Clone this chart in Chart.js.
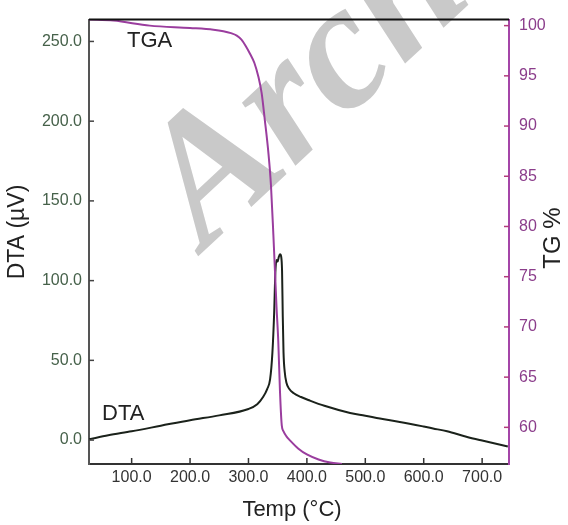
<!DOCTYPE html>
<html>
<head>
<meta charset="utf-8">
<script src="https://cdn.jsdelivr.net/npm/chart.js@4"></script>
<style>
  html, body { margin: 0; background: #fff; }
  #wrap { width: 568px; height: 525px; }
</style>
</head>
<body>
<div id="wrap"><canvas id="myChart"></canvas></div>
<script>
// DTA trace (µV) vs temperature (°C)
const dtaTemp   = [27, 60, 100, 150, 200, 250, 300, 315, 325, 332, 337, 341, 344, 346, 348, 350, 352, 354, 356, 357.5, 358.7, 360, 362, 365, 370, 377, 390, 405, 430, 474, 500, 525, 559, 600, 616, 640, 673, 700, 744];
const dtaValues = [0.5, 3, 5.5, 9, 12.5, 15.5, 19.5, 22.5, 27, 32, 38, 55, 80, 105, 113, 112, 115, 116.5, 115, 106, 78, 55, 43, 36, 32, 29.5, 27, 24.8, 21.5, 17, 15.3, 13.5, 11.4, 8.5, 7.3, 5.5, 2.1, -0.3, -4];

// TGA trace (%) vs temperature (°C)
const tgaTemp   = [27, 69, 131, 200, 240, 257, 270, 280, 288, 295, 302.6, 310, 317, 322.5, 328, 334, 338.5, 342.6, 345.4, 348, 351, 354, 357, 360, 365, 371, 385, 400, 420, 440, 460];
const tgaValues = [100.6, 100.5, 100.0, 99.77, 99.6, 99.45, 99.25, 99.0, 98.6, 98.0, 97.2, 96.3, 94.9, 93.3, 90.6, 87.4, 84.1, 79.2, 75.5, 72, 68.6, 63.5, 60.2, 59.6, 59.1, 58.7, 57.9, 57.3, 56.8, 56.5, 56.36];

const tempTicks = [100, 200, 300, 400, 500, 600, 700];
const dtaTicks  = [0, 50, 100, 150, 200, 250];
const tgTicks   = [60, 65, 70, 75, 80, 85, 90, 95, 100];

const purple = '#9a3d9e';

// watermark, inward tick marks, frame top, text labels
const decor = {
    id: 'decor',
    beforeDraw(chart) {
        const ctx = chart.ctx;
        ctx.save();
        ctx.translate(205, 250);
        ctx.rotate(-0.75);
        ctx.font = 'italic bold 180px "Liberation Serif"';
        ctx.fillStyle = '#c9c9c9';
        ctx.textBaseline = 'alphabetic';
        ctx.fillText('Archive', 0, 0);
        ctx.restore();
    },
    afterDraw(chart) {
        const ctx = chart.ctx;
        const a = chart.chartArea;
        const sx = chart.scales.x, sy = chart.scales.y, sy2 = chart.scales.y2;
        ctx.save();
        ctx.lineWidth = 1.5;
        ctx.strokeStyle = '#333';
        tempTicks.forEach(v => {
            const p = sx.getPixelForValue(v);
            ctx.beginPath(); ctx.moveTo(p, a.bottom); ctx.lineTo(p, a.bottom - 6); ctx.stroke();
        });
        ctx.strokeStyle = '#444';
        dtaTicks.forEach(v => {
            const p = sy.getPixelForValue(v);
            ctx.beginPath(); ctx.moveTo(a.left, p); ctx.lineTo(a.left + 5, p); ctx.stroke();
        });
        ctx.strokeStyle = '#b03c7c';
        tgTicks.forEach(v => {
            const p = sy2.getPixelForValue(v);
            ctx.beginPath(); ctx.moveTo(a.right, p); ctx.lineTo(a.right - 5, p); ctx.stroke();
        });
        // top frame line
        ctx.strokeStyle = '#111';
        ctx.lineWidth = 2;
        ctx.beginPath(); ctx.moveTo(a.left, a.top); ctx.lineTo(a.right, a.top); ctx.stroke();

        ctx.fillStyle = '#222';
        ctx.font = '22px "Liberation Sans"';
        ctx.textBaseline = 'alphabetic';
        ctx.textAlign = 'left';
        ctx.fillText('TGA', 127, 47);
        ctx.fillText('DTA', 102, 420);

        ctx.textAlign = 'center';
        ctx.textBaseline = 'middle';
        ctx.fillText('Temp (°C)', 292, 510);
        ctx.save();
        ctx.translate(18, 232);
        ctx.rotate(-Math.PI / 2);
        ctx.font = '23px "Liberation Sans"';
        ctx.fillText('DTA (µV)', 0, 0);
        ctx.restore();
        ctx.save();
        ctx.translate(553, 238);
        ctx.rotate(-Math.PI / 2);
        ctx.font = '24px "Liberation Sans"';
        ctx.fillText('TG %', 0, 0);
        ctx.restore();
        ctx.restore();
    }
};

const ctx = document.getElementById('myChart');
new Chart(ctx, {
    type: 'line',
    data: {
        datasets: [{
            label: 'TGA',
            data: tgaTemp.map((t, i) => ({ x: t, y: tgaValues[i] })),
            yAxisID: 'y2',
            borderColor: purple,
            borderWidth: 2,
            pointRadius: 0,
            cubicInterpolationMode: 'monotone'
        }, {
            label: 'DTA',
            data: dtaTemp.map((t, i) => ({ x: t, y: dtaValues[i] })),
            yAxisID: 'y',
            borderColor: '#1b221b',
            borderWidth: 2,
            pointRadius: 0,
            cubicInterpolationMode: 'monotone'
        }]
    },
    options: {
        responsive: true,
        maintainAspectRatio: false,
        animation: false,
        layout: { padding: { top: 15, left: 0, right: 0, bottom: 0 } },
        plugins: { legend: { display: false }, tooltip: { enabled: false } },
        scales: {
            x: {
                type: 'linear',
                position: 'bottom',
                min: 27,
                max: 746,
                afterFit: s => { s.height = 61; },
                afterBuildTicks: s => { s.ticks = tempTicks.map(v => ({ value: v })); },
                ticks: {
                    callback: v => v.toFixed(1),
                    color: '#333',
                    font: { family: 'Liberation Sans', size: 16 },
                    padding: 4,
                    maxRotation: 0
                },
                grid: { drawOnChartArea: false, drawTicks: false },
                border: { color: '#333', width: 2 }
            },
            y: {
                position: 'left',
                min: -15,
                max: 263.7,
                afterFit: s => { s.width = 89; },
                afterBuildTicks: s => { s.ticks = dtaTicks.map(v => ({ value: v })); },
                ticks: {
                    callback: v => v.toFixed(1),
                    color: '#46614a',
                    font: { family: 'Liberation Sans', size: 16 },
                    padding: 7
                },
                grid: { drawOnChartArea: false, drawTicks: false },
                border: { color: '#555', width: 2 }
            },
            y2: {
                position: 'right',
                min: 56.35,
                max: 100.6,
                afterFit: s => { s.width = 59; },
                afterBuildTicks: s => { s.ticks = tgTicks.map(v => ({ value: v })); },
                ticks: {
                    color: '#8b3d8b',
                    font: { family: 'Liberation Sans', size: 16 },
                    padding: 10
                },
                grid: { drawOnChartArea: false, drawTicks: false },
                border: { color: '#a445a8', width: 2 }
            }
        }
    },
    plugins: [decor]
});
</script>
</body>
</html>
